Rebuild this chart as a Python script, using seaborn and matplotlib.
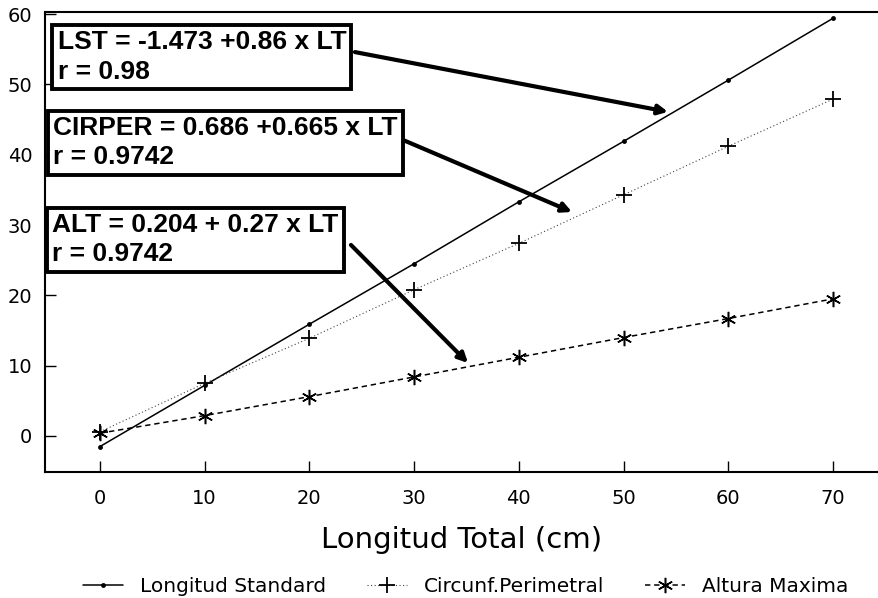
import matplotlib
matplotlib.use("Agg")
import matplotlib.pyplot as plt
import seaborn as sns
import pandas as pd

# ---- data ----
longitud_total = [0, 10, 20, 30, 40, 50, 60, 70]
longitud_standard = [-1.5, 7.2, 15.9, 24.5, 33.3, 41.9, 50.6, 59.4]
circunf_perimetral = [0.6, 7.5, 13.9, 20.8, 27.4, 34.3, 41.2, 47.9]
altura_maxima = [0.4, 2.9, 5.6, 8.4, 11.2, 14.0, 16.7, 19.5]

series_labels = ["Longitud Standard", "Circunf.Perimetral", "Altura Maxima"]
x_ticks = [0, 10, 20, 30, 40, 50, 60, 70]
y_ticks = [0, 10, 20, 30, 40, 50, 60]

box_texts = ["LST = -1.473 +0.86 x LT\nr = 0.98",
             "CIRPER = 0.686 +0.665 x LT\nr = 0.9742",
             "ALT = 0.204 + 0.27 x LT\nr = 0.9742"]
box_anchor = [(-4.05, 57.7), (-4.45, 45.5), (-4.55, 31.7)]
arrow_start = [(24.35, 54.6), (28.94, 42.1), (23.97, 27.17)]
arrow_end = [(54.25, 46.1), (45.08, 31.86), (35.15, 10.38)]

df = pd.DataFrame({"LT": longitud_total,
                   "LST": longitud_standard,
                   "CIRPER": circunf_perimetral,
                   "ALT": altura_maxima})

sns.set_theme(style="ticks")
plt.rcParams["font.family"] = ["DejaVu Sans"]
plt.rcParams["text.color"] = "black"
plt.rcParams["axes.labelcolor"] = "black"

fig = plt.figure(figsize=(8.79, 5.98), dpi=100)
ax = fig.add_axes([45 / 879, 1 - 472 / 598, 1 - 45 / 879, (472 - 12) / 598])

sns.lineplot(data=df, x="LT", y="LST", ax=ax, color="black", lw=1.1,
             marker="o", markersize=3.5, markeredgewidth=0,
             label=series_labels[0])
sns.lineplot(data=df, x="LT", y="CIRPER", ax=ax, color="#444444", lw=0.8,
             linestyle=(0, (1, 2.2)), marker="+", markersize=11,
             markeredgewidth=1.3, markeredgecolor="black",
             label=series_labels[1])
sns.lineplot(data=df, x="LT", y="ALT", ax=ax, color="black", lw=1.1,
             linestyle=(0, (3.5, 2.5)), marker=(6, 2, 0), markersize=11,
             markeredgewidth=1.1, markeredgecolor="black",
             label=series_labels[2])

ax.set_xlim(-5.25, 74.4)
ax.set_ylim(-5.12, 60.3)
ax.set_xticks(x_ticks)
ax.set_yticks(y_ticks)
ax.tick_params(direction="in", length=8, width=1.0, labelsize=14, pad=9,
               colors="black")
ax.tick_params(axis="x", pad=12)
for s in ["left", "bottom", "top"]:
    ax.spines[s].set_linewidth(1.5)
    ax.spines[s].set_color("black")
ax.spines["right"].set_visible(False)
ax.set_xlabel("Longitud Total (cm)", fontsize=21, labelpad=13, color="black")
ax.set_ylabel("")

# equation boxes with arrows
for txt, (tx, ty) in zip(box_texts, box_anchor):
    ax.text(tx, ty, txt, ha="left", va="top", fontsize=19, color="black",
            fontweight="bold", family="Liberation Sans", linespacing=1.28,
            bbox=dict(boxstyle="square,pad=0.2", fc="white", ec="black",
                      lw=2.8), zorder=5)
for (sx, sy), (ex, ey) in zip(arrow_start, arrow_end):
    ax.annotate("", xy=(ex, ey), xytext=(sx, sy),
                arrowprops=dict(arrowstyle="-|>", lw=3, color="black",
                                mutation_scale=14, shrinkA=0, shrinkB=0),
                zorder=4)

handles, labels = ax.get_legend_handles_labels()
ax.get_legend().remove()
leg = fig.legend(handles, labels, loc="lower center", ncol=3, frameon=False,
                 fontsize=14.5, handlelength=2.0, handletextpad=0.85,
                 columnspacing=2.0, bbox_to_anchor=(0.53, -0.027))
for t in leg.get_texts():
    t.set_color("black")

fig.savefig("out.png", dpi=100)
